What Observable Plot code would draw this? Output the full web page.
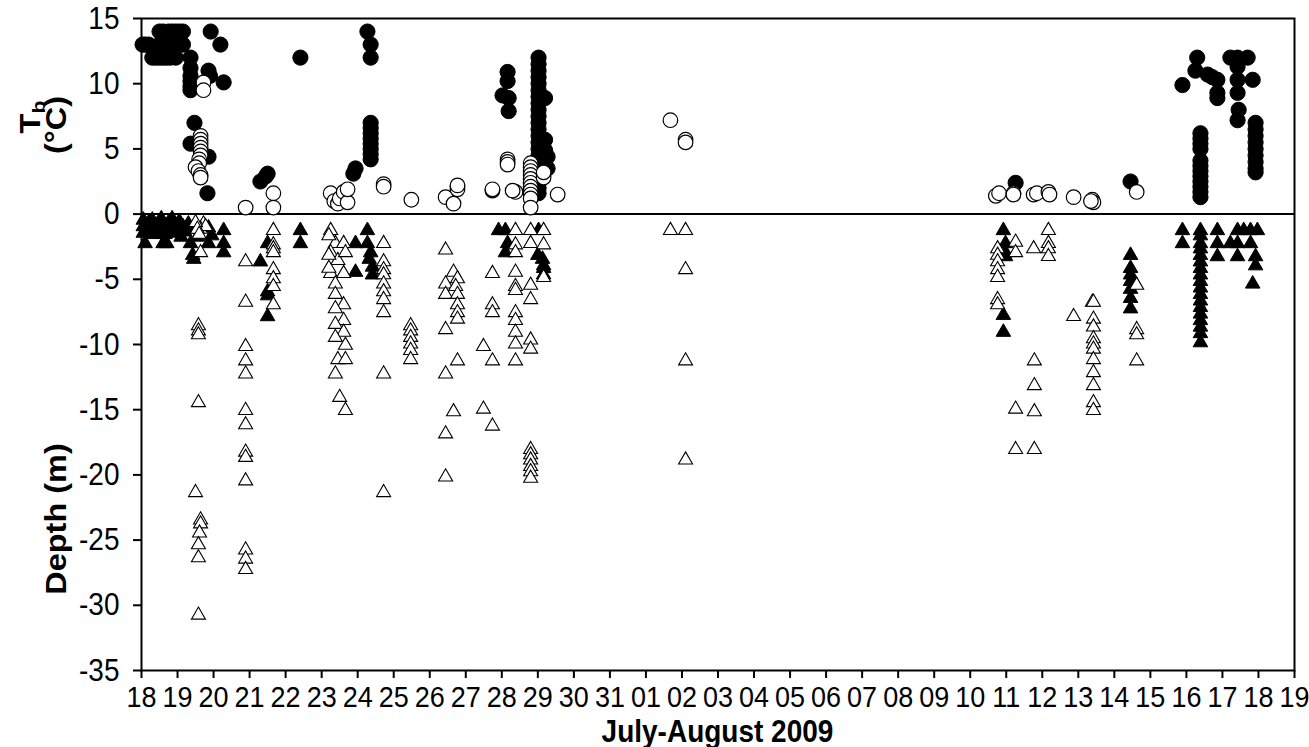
<!DOCTYPE html>
<html><head><meta charset="utf-8">
<script src="https://cdn.jsdelivr.net/npm/d3@7"></script>
<script src="https://cdn.jsdelivr.net/npm/@observablehq/plot@0.6"></script>
<style>
body{margin:0;background:#fff;}
#chart svg{font-family:"Liberation Sans",Arial,sans-serif;display:block;}
</style>
</head><body><div id="chart"></div>
<script>
// x = days since 18 July 2009
const dayLabels = ["18","19","20","21","22","23","24","25","26","27","28","29","30","31","01","02","03","04","05","06","07","08","09","10","11","12","13","14","15","16","17","18","19"];
const yTicks = [15,10,5,0,-5,-10,-15,-20,-25,-30,-35];
const xTitle = "July-August 2009";

// Body temperature, filled circles
const tbFilled = [
 [0.03,13],[0.1,13],[0.2,13],[0.3,12],[0.4,12],[0.5,12],[0.6,12],[0.7,12],[0.8,12],[0.95,12],
 [0.5,13],[0.65,13],[0.8,13],[1.0,13],[1.15,13],[0.5,14],[0.6,14],[0.75,14],[0.85,14],[0.95,14],[1.05,14],[1.15,14],
 [1.36,12],[1.36,11.2],[1.36,10.6],[1.36,10.2],[1.36,9.8],[1.36,9.5],
 [1.92,14],[2.19,13],[1.86,11],[1.9,10.6],[2.28,10.1],
 [1.47,7.0],[1.36,5.4],[1.86,4.4],[1.83,1.6],
 [3.30,2.5],[3.45,2.9],[3.50,3.1],
 [4.41,12.0],
 [6.27,14],[6.36,13],[6.36,12],[6.36,7.0],[6.36,6.6],[6.36,6.2],[6.36,5.8],[6.36,5.4],[6.36,5.0],[6.36,4.6],[6.36,4.2],
 [5.88,3.1],[5.94,3.5],
 [10.16,10.9],[10.16,10.2],[10.02,9.1],[10.19,8.9],[10.19,7.9],
 [11.02,12],[11.02,11.5],[11.02,11],[11.02,10.5],[11.02,10],[11.02,9.5],[11.02,9],[11.02,8.5],[11.02,8],[11.02,7.5],[11.02,7],
 [11.02,6.5],[11.02,6],[11.02,5.5],[11.02,5],[11.02,4.5],[11.02,4],[11.02,3.5],[11.02,3],[11.02,2.5],[11.02,2],[11.02,1.6],
 [11.2,8.9],[11.2,5.7],[11.2,4.9],[11.27,4.4],[11.27,3.5],
 [24.26,2.4],
 [27.45,2.5],
 [28.89,9.9],[29.3,12.0],[29.25,11.0],[29.59,10.7],[29.72,10.5],[29.86,10.3],[29.86,9.3],[29.86,8.9],
 [29.39,6.2],[29.39,5.8],[29.39,5.4],[29.39,5.0],[29.39,4.1],[29.39,3.7],[29.39,3.3],[29.39,2.9],[29.39,2.5],[29.39,2.1],[29.39,1.7],[29.39,1.3],
 [30.22,12],[30.42,12],[30.7,12],[30.42,11.3],[30.42,10.3],[30.42,9.3],[30.45,8.0],[30.42,7.2],[30.84,10.3],
 [30.92,7.0],[30.92,6.5],[30.92,6.0],[30.92,5.5],[30.92,5.0],[30.92,4.5],[30.92,4.0],[30.92,3.5],[30.92,3.2]
];
// Body temperature, open circles
const tbOpen = [
 [1.72,10.1],[1.72,9.5],[1.64,6.0],[1.64,5.7],[1.64,5.4],[1.64,5.1],[1.64,4.8],[1.64,4.5],[1.6,4.2],[1.6,3.9],[1.5,3.6],[1.58,3.3],[1.64,3.0],[1.64,2.8],
 [2.89,0.5],[3.66,1.6],[3.66,0.5],
 [5.25,1.6],[5.35,1.0],[5.45,0.8],[5.5,1.2],[5.61,1.7],[5.72,0.9],[5.72,1.9],
 [6.72,2.3],[6.72,2.1],[7.49,1.1],
 [8.44,1.3],[8.66,0.8],[8.77,2.1],[8.77,1.9],[8.77,2.2],
 [9.74,1.8],[9.74,1.9],
 [10.16,4.2],[10.16,4.0],[10.16,3.8],[10.38,1.7],[10.3,1.8],
 [10.8,3.9],[10.8,3.6],[10.8,3.3],[10.8,3.0],[10.8,2.7],[10.8,2.4],[10.8,2.1],[10.8,1.8],[10.8,1.5],[10.8,1.2],[10.8,0.5],
 [11.16,2.8],[11.16,3.2],[11.55,1.5],
 [14.68,7.2],[15.1,5.7],[15.1,5.5],
 [23.71,1.4],[23.8,1.6],[24.2,1.6],[24.2,1.5],
 [24.76,1.5],[24.85,1.6],
 [25.17,1.7],[25.2,1.5],
 [25.87,1.3],
 [26.39,1.1],[26.42,0.9],[26.35,1.0],
 [27.62,1.7]
];
// Depth, filled triangles
const depthFilled = [
 [0.05,-0.3],[0.05,-0.8],[0.05,-1.3],[0.1,-2.1],[0.2,-0.5],[0.25,-1.0],[0.3,-0.3],[0.35,-1.4],[0.45,-0.6],[0.5,-1.1],
 [0.55,-0.2],[0.6,-0.8],[0.6,-2.1],[0.65,-1.4],[0.7,-2.1],[0.75,-0.5],[0.8,-1.0],[0.85,-0.2],[0.9,-1.3],[0.95,-0.7],
 [1.0,-1.1],[1.05,-0.4],[1.1,-1.6],[1.15,-0.8],[1.2,-1.2],[1.3,-0.6],[1.36,-2.1],[1.4,-1.0],[1.42,-3.0],[1.45,-3.3],
 [1.5,-0.8],[1.55,-1.6],[1.86,-0.9],[1.86,-2.1],[1.95,-1.5],[2.28,-1.1],[2.28,-2.1],[2.28,-2.8],
 [3.30,-3.5],[3.50,-2.1],[3.50,-5.8],[3.50,-6.1],[3.50,-7.7],
 [4.41,-1.1],[4.41,-2.1],
 [5.94,-2.1],[5.94,-4.3],[6.27,-1.1],[6.27,-2.1],[6.36,-2.8],[6.32,-3.3],[6.41,-3.9],[6.41,-4.5],
 [9.91,-1.1],[10.1,-1.1],[10.16,-2.1],[10.1,-2.8],
 [11.02,-1.1],[11.0,-3.0],[11.13,-3.3],[11.16,-3.8],[11.16,-4.0],[11.16,-4.5],
 [23.92,-1.1],[23.98,-2.1],[23.98,-2.8],[23.98,-3.1],[23.92,-7.6],[23.92,-8.9],
 [27.45,-3.0],[27.45,-4.0],[27.45,-4.5],[27.45,-5.0],[27.45,-5.6],[27.45,-6.3],[27.45,-7.1],
 [28.89,-1.1],[28.89,-2.1],
 [29.39,-1.1],[29.39,-1.5],[29.39,-2.1],[29.39,-2.5],[29.39,-3.0],[29.39,-3.5],[29.39,-4.0],[29.39,-4.5],[29.39,-5.0],
 [29.39,-5.5],[29.39,-6.0],[29.39,-6.5],[29.39,-7.0],[29.39,-7.5],[29.39,-8.0],[29.39,-8.5],[29.39,-9.0],[29.39,-9.7],
 [29.86,-1.1],[29.86,-2.1],[29.86,-3.1],
 [30.22,-2.1],[30.42,-1.1],[30.42,-2.1],[30.42,-3.1],[30.59,-1.1],[30.78,-1.1],[30.97,-1.1],[30.78,-2.1],[30.92,-3.1],[30.92,-3.8],[30.84,-5.2]
];
// Depth, open triangles
const depthOpen = [
 [1.72,-0.6],[1.64,-1.0],[1.78,-0.8],[1.5,-0.5],[1.55,-1.0],[1.6,-1.4],[1.64,-2.8],
 [1.58,-8.4],[1.58,-8.8],[1.58,-9.1],[1.58,-14.3],[1.5,-21.2],[1.64,-23.3],[1.64,-23.6],[1.61,-24.3],[1.58,-25.2],[1.58,-26.2],[1.58,-30.6],
 [2.89,-3.5],[2.89,-6.6],[2.89,-10.0],[2.89,-11.1],[2.89,-12.1],[2.89,-14.9],[2.89,-16.0],[2.89,-18.1],[2.89,-18.5],[2.89,-20.3],[2.89,-25.6],[2.89,-26.3],[2.89,-27.1],
 [3.66,-1.1],[3.66,-2.2],[3.66,-2.5],[3.66,-2.8],[3.66,-4.1],[3.66,-4.8],[3.66,-5.4],[3.66,-6.8],
 [5.25,-1.1],[5.38,-2.1],[5.25,-2.8],[5.45,-3.4],[5.61,-2.1],[5.66,-2.8],[5.25,-4.4],[5.61,-4.4],[5.38,-5.2],[5.38,-6.0],[5.61,-6.8],
 [5.38,-7.1],[5.61,-8.0],[5.38,-8.3],[5.61,-8.9],[5.38,-9.3],[5.66,-9.9],[5.45,-11.0],[5.66,-11.0],[5.38,-12.1],[5.5,-13.9],[5.66,-14.9],
 [5.2,-1.5],[5.2,-3.0],[5.2,-4.0],
 [6.72,-2.1],[6.72,-3.5],[6.72,-4.1],[6.72,-4.5],[6.72,-5.2],[6.72,-5.8],[6.72,-6.4],[6.72,-7.4],[6.72,-12.1],[6.72,-21.2],
 [7.47,-8.4],[7.47,-8.8],[7.47,-9.3],[7.47,-9.8],[7.47,-10.3],[7.47,-11.0],
 [8.44,-2.6],[8.44,-5.2],[8.44,-6.0],[8.44,-8.7],[8.44,-12.1],[8.44,-16.7],[8.44,-20.0],
 [8.66,-4.3],[8.77,-4.8],[8.72,-5.4],[8.77,-6.0],[8.77,-6.8],[8.77,-7.4],[8.77,-7.9],[8.77,-11.1],[8.66,-15.0],
 [9.74,-4.4],[9.74,-6.8],[9.74,-7.4],[9.49,-10.0],[9.74,-11.1],[9.49,-14.8],[9.74,-16.1],
 [10.38,-1.1],[10.38,-2.2],[10.38,-2.8],[10.38,-4.3],[10.38,-5.4],[10.38,-5.7],[10.38,-7.4],[10.38,-8.0],[10.38,-8.9],[10.38,-9.8],[10.38,-11.1],
 [10.8,-1.1],[10.8,-2.1],[10.8,-5.3],[10.8,-6.4],[10.8,-9.5],[10.8,-10.2],[10.8,-17.9],[10.8,-18.3],[10.8,-18.7],[10.8,-19.2],[10.8,-19.6],[10.8,-20.1],
 [11.16,-1.1],[11.16,-2.2],[11.16,-4.7],
 [14.68,-1.1],[15.1,-1.1],[15.1,-4.1],[15.1,-11.1],[15.1,-18.7],
 [23.76,-2.5],[23.76,-3.0],[23.76,-3.5],[23.76,-4.1],[23.76,-4.7],[23.76,-6.4],[23.76,-6.8],[24.26,-2.0],[24.26,-2.8],
 [24.76,-2.5],[24.78,-11.1],[24.78,-13.0],[24.26,-14.8],[24.78,-15.0],[24.26,-17.9],[24.78,-17.9],
 [25.17,-1.1],[25.17,-2.1],[25.17,-2.5],[25.17,-3.1],
 [25.87,-7.7],
 [26.39,-6.6],[26.42,-6.6],[26.42,-7.9],[26.42,-8.5],[26.42,-9.4],[26.42,-9.8],[26.42,-10.2],[26.42,-11.0],[26.42,-12.0],[26.42,-13.0],[26.42,-14.3],[26.42,-14.9],
 [27.62,-5.3],[27.62,-8.7],[27.62,-9.1],[27.62,-11.1]
];

const W = 1309, H = 747;
const STRETCH = 1.12; // text in the reference is slightly taller than wide
const font = '"Liberation Sans", Arial, sans-serif';
const chart = Plot.plot({
  width: W, height: H,
  marginLeft: 141, marginRight: 15, marginTop: 18, marginBottom: 77,
  style: {fontFamily: font, fontSize: "28px", color: "black", background: "white"},
  x: {domain: [0, dayLabels.length - 1]},
  y: {domain: [-35, 15]},
  marks: [
    Plot.ruleY([0], {stroke: "black", strokeWidth: 2}),
    Plot.dot(tbFilled, {x: d => d[0], y: d => d[1], r: 7.6, fill: "black", stroke: "black", strokeWidth: 1}),
    Plot.dot(tbOpen, {x: d => d[0], y: d => d[1], r: 7.3, fill: "white", stroke: "black", strokeWidth: 1.2}),
    Plot.dot(depthFilled, {x: d => d[0], y: d => d[1], symbol: "triangle", r: 5.4, dy: 2, fill: "black", stroke: "black", strokeWidth: 1}),
    Plot.dot(depthOpen, {x: d => d[0], y: d => d[1], symbol: "triangle", r: 5.2, dy: 2, fill: "white", stroke: "black", strokeWidth: 1.1}),
    Plot.frame({stroke: "black", strokeWidth: 2}),
    Plot.axisX({ticks: dayLabels.map((_, i) => i), tickFormat: i => dayLabels[i], tickSize: 8, tickPadding: 7, strokeWidth: 2, label: null, fontSize: 27}),
    Plot.axisY({ticks: yTicks, tickFormat: d => String(d), tickSize: 8, tickPadding: 14, strokeWidth: 2, label: null, fontSize: 28})
  ]
});
document.getElementById("chart").appendChild(chart);

const svg = d3.select(chart);
svg.selectAll('[aria-label="x-axis tick label"] text, [aria-label="y-axis tick label"] text').each(function() {
  const t = d3.select(this);
  t.attr("transform", (t.attr("transform") || "") + ` scale(1,${STRETCH})`);
});
function title(x, y, size, rotate) {
  return svg.append("text")
    .attr("transform", `translate(${x},${y}) scale(1,${STRETCH})` + (rotate ? " rotate(-90)" : ""))
    .attr("text-anchor", "middle").attr("dominant-baseline", "central")
    .attr("font-family", font).attr("font-weight", "bold").attr("font-size", size);
}
title((141 + W - 15) / 2, 731, 28, false).text(xTitle);
const tb = title(30, 117, 29, true);
tb.append("tspan").text("T");
tb.append("tspan").attr("font-size", 19).attr("dy", 8).text("b");
title(56, 125, 29, true).text("(°C)");
title(56, 519, 29, true).text("Depth (m)");
</script>
</body></html>
